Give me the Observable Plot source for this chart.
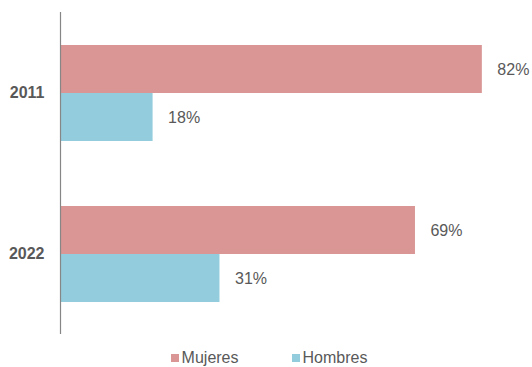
<!DOCTYPE html>
<html>
<head>
<meta charset="utf-8">
<script src="https://cdn.jsdelivr.net/npm/d3@7"></script>
<script src="https://cdn.jsdelivr.net/npm/@observablehq/plot@0.6"></script>
<style>
  body { margin: 0; background: #fff; font-family: "Liberation Sans", Arial, sans-serif; }
  #wrap { position: relative; width: 532px; height: 367px; overflow: hidden; }
  #legend { position: absolute; left: 3px; top: 350px; width: 532px; display: flex; justify-content: center; gap: 53px; font-size: 16px; color: #595959; line-height: 16px; }
  #legend span.item { display: flex; align-items: flex-start; }
  #legend span.sw { display: inline-block; width: 8px; height: 8px; margin-right: 3px; margin-top: 4px; }
</style>
</head>
<body>
<div id="wrap"><div id="chart"></div><div id="legend"></div></div>
<script>
const years = ["2011", "2022"];
const sexes = ["Mujeres", "Hombres"];
const mujeres = [82, 69];
const hombres = [18, 31];
const colors = ["#D99694", "#93CDDD"];

const data = years.flatMap((yr, i) => [
  {year: yr, sex: sexes[0], value: mujeres[i]},
  {year: yr, sex: sexes[1], value: hombres[i]}
]);

const chart = Plot.plot({
  width: 532,
  height: 340,
  marginTop: 12,
  marginBottom: 6,
  marginLeft: 60,
  marginRight: 9,
  style: {fontFamily: "'Liberation Sans', Arial, sans-serif", background: "#fff"},
  x: {domain: [0, 90], axis: null},
  y: {domain: sexes, paddingInner: 0, paddingOuter: 0.66, axis: null},
  fy: {domain: years, padding: 0, axis: null, label: null},
  color: {domain: sexes, range: colors},
  marks: [
    Plot.barX(data, {fy: "year", y: "sex", x: "value", fill: "sex"}),
    Plot.text(data, {fy: "year", y: "sex", x: "value", text: d => d.value + "%", textAnchor: "start", dx: 15, fill: "#595959", fontSize: 16}),
    Plot.ruleX([0], {stroke: "#868686", strokeWidth: 1.2}),
    Plot.axisFy({anchor: "left", tickSize: 0, tickPadding: 16, fontSize: 16, fontWeight: "bold", fill: "#595959", label: null})
  ]
});
document.getElementById("chart").appendChild(chart);

const legend = document.getElementById("legend");
sexes.forEach((s, i) => {
  const item = document.createElement("span");
  item.className = "item";
  const sw = document.createElement("span");
  sw.className = "sw";
  sw.style.background = colors[i];
  item.appendChild(sw);
  item.appendChild(document.createTextNode(s));
  legend.appendChild(item);
});
</script>
</body>
</html>
